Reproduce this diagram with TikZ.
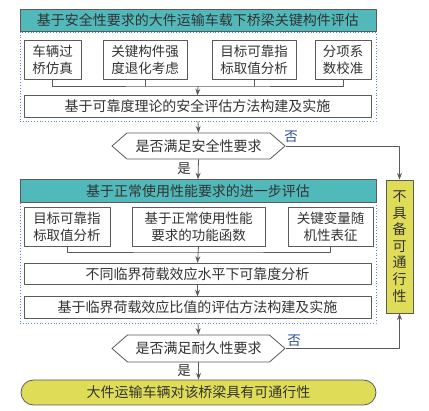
\documentclass[tikz,border=0pt]{standalone}
\usepackage{fontspec}
\usepackage{xcolor}
\usepackage{tikz}
\usetikzlibrary{arrows.meta,shapes.symbols}
\newfontfamily\cjk{Noto Sans CJK SC}
\definecolor{headteal}{HTML}{52B9BB}
\definecolor{passyellow}{HTML}{DFDD58}
\definecolor{linegray}{HTML}{5A5A5A}
\definecolor{dotblue}{HTML}{5B7FD0}
\definecolor{noblue}{HTML}{2C4C9C}

\begin{document}
\begin{tikzpicture}[x=1pt,y=-1pt,>=Stealth,line join=round,
  box/.style={draw=linegray,line width=0.8pt,fill=white,inner sep=0pt,align=center,
    text=black!80,font=\cjk\fontsize{13.5}{17}\selectfont},
  headbox/.style={box,fill=headteal,minimum width=356,minimum height=22.5,font=\cjk\fontsize{14}{17}\selectfont},
  widebox/.style={box,minimum width=347,minimum height=21.5,font=\cjk\fontsize{14}{17}\selectfont},
  rowbox/.style={box,minimum height=39},
  groupbox/.style={draw=dotblue,line width=0.8pt,dotted,inner sep=0pt,minimum width=356},
  checkbox/.style={box,shape=signal,signal to=west and east,signal pointer angle=82,
    minimum width=173,font=\cjk\fontsize{14}{17}\selectfont},
  flow/.style={draw=linegray,line width=0.8pt},
  yeslabel/.style={text=black!80,font=\cjk\fontsize{13.5}{17}\selectfont,inner sep=0pt},
  nolabel/.style={text=noblue,font=\cjk\fontsize{13.5}{17}\selectfont,inner sep=0pt}]
  \useasboundingbox (0,0) rectangle (429,411);

  \node[groupbox,minimum height=89] (grpsafe) at (198,76.5) {};
  \node[headbox] (headsafe) at (198,20.5) {基于安全性要求的大件运输车载下桥梁关键构件评估};
  \node[rowbox,minimum width=57] (sim) at (52.5,59.5) {车辆过\\桥仿真};
  \node[rowbox,minimum width=84] (degrade) at (145,59.5) {关键构件强\\度退化考虑};
  \node[rowbox,minimum width=84] (target) at (254,59.5) {目标可靠指\\标取值分析};
  \node[rowbox,minimum width=56] (calib) at (343,59.5) {分项系\\数校准};
  \node[widebox] (safemeth) at (197.5,106.5) {基于可靠度理论的安全评估方法构建及实施};
  \coordinate (join1) at (198,86);
  \draw[flow] (sim.south) |- (join1) -| (calib.south);
  \draw[flow] (degrade.south) -- (degrade.south |- join1);
  \draw[flow] (target.south) -- (target.south |- join1);
  \draw[flow,->] (join1) -- (safemeth.north);

  \node[checkbox,minimum height=26] (chksafe) at (198.5,146) {是否满足安全性要求};
  \draw[flow,->] (grpsafe.south) -- (chksafe.north);

  \node[groupbox,minimum height=121] (grpserv) at (198,262.5) {};
  \node[headbox] (headserv) at (198,191) {基于正常使用性能要求的进一步评估};
  \draw[flow,->] (chksafe.south) -- (headserv.north);
  \node[yeslabel] (yessafe) at (184,168.5) {是};

  \node[box,fill=passyellow,minimum width=27,minimum height=133,font=\cjk\fontsize{14}{16.6}\selectfont] (nopass) at (399.5,246.5)
    {不\\具\\备\\可\\通\\行\\性};
  \draw[flow,->] (chksafe.east) -| (nopass.north);
  \node[nolabel] (nosafe) at (291,137) {否};

  \node[rowbox,minimum width=86] (target2) at (67,226.5) {目标可靠指\\标取值分析};
  \node[rowbox,minimum width=133] (func) at (198.5,226.5) {基于正常使用性能\\要求的功能函数};
  \node[rowbox,minimum width=85] (random) at (330.5,226.5) {关键变量随\\机性表征};
  \node[widebox] (levels) at (197.5,274) {不同临界荷载效应水平下可靠度分析};
  \node[widebox] (servmeth) at (197.5,307.5) {基于临界荷载效应比值的评估方法构建及实施};
  \coordinate (join2) at (198,252);
  \draw[flow] (target2.south) |- (join2) -| (random.south);
  \draw[flow,->] (func.south) -- (levels.north);
  \draw[flow,->] (levels.south) -- (servmeth.north);

  \node[checkbox,minimum height=27] (chkserv) at (198.5,348.5) {是否满足耐久性要求};
  \draw[flow,->] (grpserv.south) -- (chkserv.north);
  \draw[flow,->] (chkserv.east) -| (nopass.south);
  \node[nolabel] (noserv) at (294,340.5) {否};

  \node[box,fill=passyellow,minimum width=355,minimum height=25,rounded corners=12.5,
    font=\cjk\fontsize{14}{17}\selectfont] (pass) at (198.5,392.5) {大件运输车辆对该桥梁具有可通行性};
  \draw[flow,->] (chkserv.south) -- (pass.north);
  \node[yeslabel] (yesserv) at (184,371) {是};
\end{tikzpicture}
\end{document}
